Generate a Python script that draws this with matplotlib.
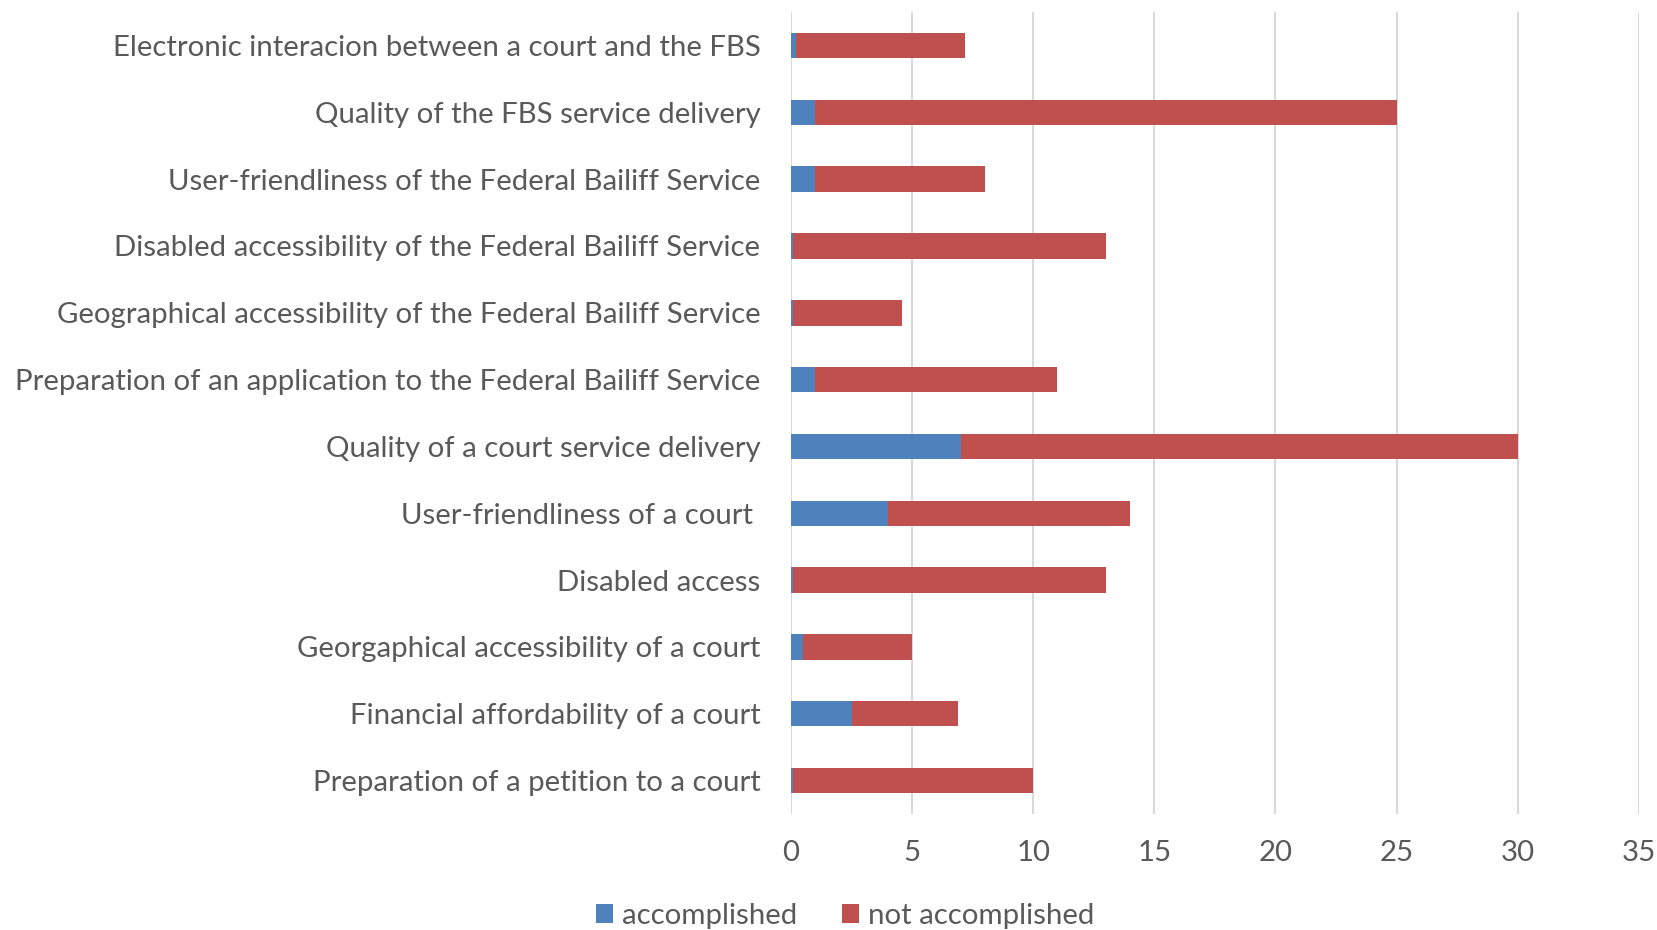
import matplotlib
matplotlib.use("Agg")
import matplotlib.pyplot as plt
import numpy as np

categories = [
    "Electronic interacion between a court and the FBS",
    "Quality of the FBS service delivery",
    "User-friendliness of the Federal Bailiff Service",
    "Disabled accessibility of the Federal Bailiff Service",
    "Geographical accessibility of the Federal Bailiff Service",
    "Preparation of an application to the Federal Bailiff Service",
    "Quality of a court service delivery",
    "User-friendliness of a court ",
    "Disabled access",
    "Georgaphical accessibility of a court",
    "Financial affordability of a court",
    "Preparation of a petition to a court",
]
accomplished = [0.2, 1, 1, 0.08, 0.08, 1, 7, 4, 0.08, 0.5, 2.5, 0.08]
not_accomplished = [7.0, 24, 7, 12.92, 4.52, 10, 23, 10, 12.92, 4.5, 4.4, 9.92]
xticks = [0, 5, 10, 15, 20, 25, 30, 35]

plt.rcParams['font.family'] = ['Lato', 'DejaVu Sans']

fig = plt.figure(figsize=(16.57, 9.30), dpi=100)
ax = fig.add_axes([0.4774, 0.1247, 0.989 - 0.4774, 0.987 - 0.1247])

y = np.arange(len(categories))[::-1]
blue = "#4F81BD"
red = "#C0504D"
h = 0.38
ax.barh(y, accomplished, height=h, color=blue, label="accomplished", zorder=3)
ax.barh(y, not_accomplished, left=accomplished, height=h, color=red,
        label="not accomplished", zorder=3)

ax.set_xlim(0, 35)
ax.set_ylim(-0.5, 11.5)
ax.set_xticks(xticks)
ax.set_yticks(y)
ax.set_yticklabels(categories)
ax.grid(axis='x', color="#D9D9D9", linewidth=1.5, zorder=0)
ax.grid(axis='y', visible=False)
for s in ax.spines.values():
    s.set_visible(False)
ax.tick_params(axis='both', length=0, colors="#595959", labelsize=21.2)
ax.tick_params(axis='y', pad=22)
ax.tick_params(axis='x', pad=19)

leg = fig.legend(loc='lower center', bbox_to_anchor=(0.51, -0.027), ncol=2,
                 frameon=False, fontsize=21.2, handlelength=0.6, handleheight=0.6,
                 handletextpad=0.3, columnspacing=1.5)
for t in leg.get_texts():
    t.set_color("#595959")

fig.savefig("out.png", dpi=100, facecolor="white")
